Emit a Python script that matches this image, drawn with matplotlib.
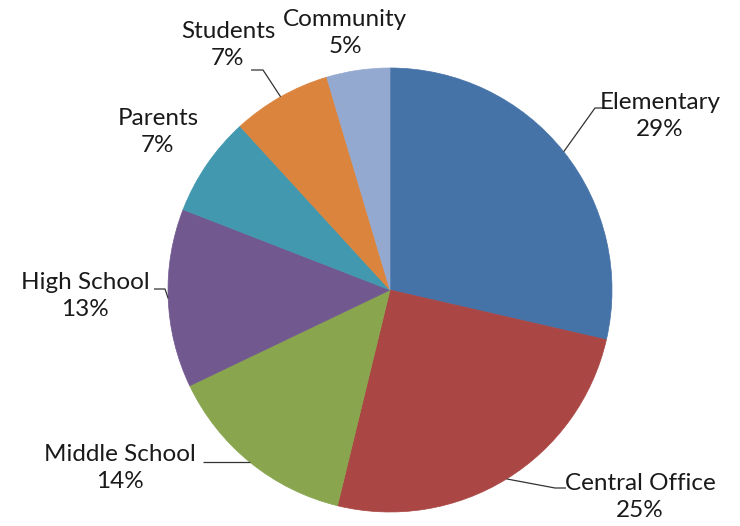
import matplotlib
matplotlib.use("Agg")
import matplotlib.pyplot as plt
import numpy as np

categories = ["Elementary", "Central Office", "Middle School", "High School",
              "Parents", "Students", "Community"]
values = [28.6, 25.2, 14.1, 13.0, 7.3, 7.2, 4.6]
colors = ["#4572A7", "#AA4643", "#89A54E", "#71588F", "#4198AF", "#DB843D", "#93A9CF"]

W, H = 740, 526
CX, CY, R = 390, 290, 222   # pixel layout (y from top)


def P(x, y):
    """pixel (from top-left) -> data coords (y up)"""
    return x, H - y


fig = plt.figure(figsize=(W / 100, H / 100), dpi=100)
ax = fig.add_axes([0, 0, 1, 1])

wedges, _ = ax.pie(values, colors=colors, startangle=90, counterclock=False,
                   center=P(CX, CY), radius=R, frame=True,
                   wedgeprops=dict(linewidth=0.5))
for w, c in zip(wedges, colors):
    w.set_edgecolor(c)
ax.set_xlim(0, W)
ax.set_ylim(0, H)
ax.axis("off")

# label layout (pixel positions of the label block centers) and leader elbows
label_pos = [(660, 116), (640, 497), (120, 468), (85, 296), (158, 132), (228, 45), (345, 33)]
leaders = [[(595, 108), (606, 108)],
           [(555, 488), (566, 488)],
           [(203, None)],
           [(165, 289), (154, 289)],
           None,
           [(263, 70), (251, 70)],
           None]

total = sum(values)
font = dict(family=["Lato", "DejaVu Sans"], fontsize=17.5, color="#1a1a1a")
cx, cy = P(CX, CY)
for w, cat, v, pos, ld in zip(wedges, categories, values, label_pos, leaders):
    th = np.deg2rad((w.theta1 + w.theta2) / 2)
    ex = cx + R * np.cos(th)
    ey = cy + R * np.sin(th)
    tx, ty = P(*pos)
    ax.text(tx, ty, f"{cat}\n{v / total * 100:.0f}%", ha="center", va="center",
            linespacing=1.3, **font)
    if ld:
        xs = [ex] + [p[0] for p in ld]
        ys = [ey] + [(H - p[1] if p[1] is not None else ey) for p in ld]
        ax.plot(xs, ys, color="#333333", lw=0.9, solid_capstyle="butt")

fig.savefig("out.png", dpi=100)
